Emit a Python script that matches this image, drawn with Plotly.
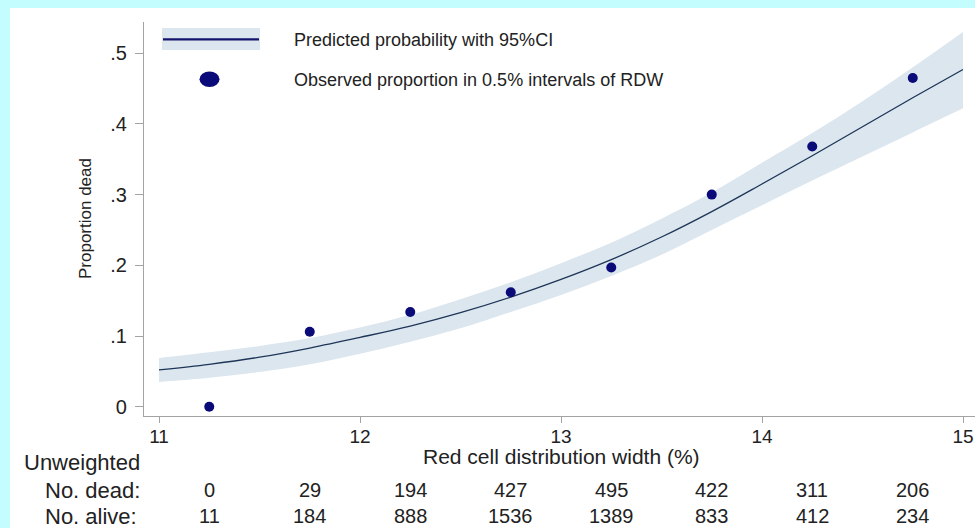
import plotly.graph_objects as go

# Red cell distribution width (%) grid for the fitted curve
rdw_grid = [11.0, 11.25, 11.5, 11.75, 12.0, 12.25, 12.5, 12.75, 13.0,
            13.25, 13.5, 13.75, 14.0, 14.25, 14.5, 14.75, 15.0]
pred_prob = [0.052, 0.060, 0.070, 0.083, 0.098, 0.114, 0.133, 0.155, 0.180,
             0.208, 0.240, 0.276, 0.315, 0.355, 0.396, 0.437, 0.477]
ci_low = [0.035, 0.041, 0.049, 0.060, 0.075, 0.092, 0.111, 0.134, 0.158,
          0.185, 0.215, 0.250, 0.285, 0.320, 0.354, 0.388, 0.422]
ci_high = [0.069, 0.077, 0.086, 0.097, 0.112, 0.130, 0.152, 0.176, 0.203,
           0.232, 0.266, 0.303, 0.345, 0.387, 0.432, 0.480, 0.530]

# Observed proportion dead in 0.5% RDW intervals (interval midpoints)
rdw_mid = [11.25, 11.75, 12.25, 12.75, 13.25, 13.75, 14.25, 14.75]
obs_prop = [0.0, 0.106, 0.134, 0.162, 0.197, 0.300, 0.368, 0.465]

# Unweighted counts per interval
n_dead = [0, 29, 194, 427, 495, 422, 311, 206]
n_alive = [11, 184, 888, 1536, 1389, 833, 412, 234]

x_ticks = [11, 12, 13, 14, 15]
y_ticks = [0, 0.1, 0.2, 0.3, 0.4, 0.5]
y_ticktext = ["0", ".1", ".2", ".3", ".4", ".5"]

W, H = 975, 528
ML, MR, MT, MB = 144, 0, 22, 112
PW, PH = W - ML - MR, H - MT - MB

FONT = "Liberation Sans, Arial, sans-serif"
TEXT = "#222222"
BAND = "#dce6ef"
NAVY = "#0a0a78"
AXIS = "#a3a3a3"
BG = "#c3fdfd"


def px(xp):
    return (xp - ML) / PW


def py(yp):
    return (H - MB - yp) / PH


fig = go.Figure()

fig.add_trace(go.Scatter(x=rdw_grid, y=ci_high, mode="lines",
                         line=dict(width=0, shape="spline"),
                         hoverinfo="skip", showlegend=False))
fig.add_trace(go.Scatter(x=rdw_grid, y=ci_low, mode="lines",
                         line=dict(width=0, shape="spline"),
                         fill="tonexty", fillcolor=BAND,
                         hoverinfo="skip", showlegend=False))
fig.add_trace(go.Scatter(x=rdw_grid, y=pred_prob, mode="lines",
                         line=dict(color="#1d3556", width=1.3, shape="spline"),
                         showlegend=False))
fig.add_trace(go.Scatter(x=rdw_mid, y=obs_prop, mode="markers",
                         marker=dict(color=NAVY, size=10),
                         showlegend=False))

shapes = [
    # white panel
    dict(type="rect", xref="paper", yref="paper", layer="below",
         x0=px(10), x1=px(W + 5), y0=py(8), y1=py(H + 5),
         fillcolor="white", line=dict(width=0)),
    # legend key: band + line
    dict(type="rect", xref="paper", yref="paper",
         x0=px(162), x1=px(260), y0=py(50), y1=py(28),
         fillcolor=BAND, line=dict(width=0)),
    dict(type="line", xref="paper", yref="paper",
         x0=px(163), x1=px(259), y0=py(39.3), y1=py(39.3),
         line=dict(color="#14146e", width=2.2)),
    # legend key: marker
    dict(type="circle", xref="paper", yref="paper",
         x0=px(199.5), x1=px(219.5), y0=py(87), y1=py(71.5),
         fillcolor=NAVY, line=dict(width=0)),
]


def label(text, x, y, size, xanchor="left", xref="paper", angle=0):
    return dict(text=text, xref=xref, yref="paper",
                x=x if xref != "paper" else px(x), y=py(y),
                xanchor=xanchor, yanchor="middle", textangle=angle,
                showarrow=False, font=dict(size=size, color=TEXT, family=FONT))


annotations = [
    label("Predicted probability with 95%CI", 292, 40, 18),
    label("Observed proportion in 0.5% intervals of RDW", 292, 80, 18),
    label("Red cell distribution width (%)", 13, 456, 21, xanchor="center", xref="x"),
    label("Proportion dead", 85, 219, 17, xanchor="center", angle=-90),
    label("Unweighted", 22, 462, 22),
    label("No. dead:", 43, 490, 22),
    label("No. alive:", 43, 516, 22),
]
for xm, d, a in zip(rdw_mid, n_dead, n_alive):
    annotations.append(label(str(d), xm, 490, 20, xanchor="center", xref="x"))
    annotations.append(label(str(a), xm, 516, 20, xanchor="center", xref="x"))

fig.update_layout(
    width=W, height=H,
    margin=dict(l=ML, r=MR, t=MT, b=MB, pad=0),
    paper_bgcolor=BG, plot_bgcolor="rgba(0,0,0,0)",
    shapes=shapes, annotations=annotations,
    showlegend=False,
    xaxis=dict(range=[11 - 15 / 201, 11 + (W - 159) / 201],
               tickvals=x_ticks, ticks="outside", ticklen=6, tickcolor=AXIS,
               showline=True, linecolor=AXIS, linewidth=1.3,
               showgrid=False, zeroline=False, ticklabelstandoff=-3,
               tickfont=dict(size=19, color=TEXT, family=FONT)),
    yaxis=dict(range=[-(416 - 406.7) / 707, (406.7 - 22) / 707],
               tickvals=y_ticks, ticktext=y_ticktext,
               ticks="outside", ticklen=8, tickcolor=AXIS,
               showline=True, linecolor=AXIS, linewidth=1.3,
               showgrid=False, zeroline=False, ticklabelstandoff=4,
               tickfont=dict(size=20, color=TEXT, family=FONT)),
)

fig.write_html("out.html")
